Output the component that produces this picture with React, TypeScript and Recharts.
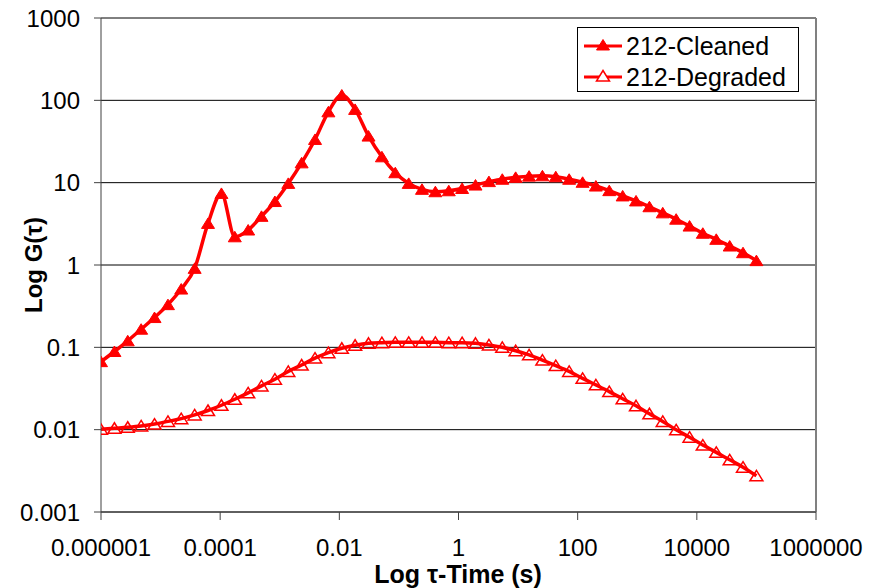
import React from "react"
import { LineChart, Line, XAxis, YAxis, CartesianGrid, ReferenceLine } from "recharts"

const tau = [
  1e-6, 1.68e-6, 2.81e-6, 4.72e-6, 7.91e-6, 1.33e-5, 2.22e-5, 3.73e-5, 6.25e-5, 1.05e-4,
  1.76e-4, 2.95e-4, 4.94e-4, 8.29e-4, 1.39e-3, 2.33e-3, 3.91e-3, 6.55e-3, 0.011, 0.0184,
  0.0309, 0.0518, 0.0869, 0.146, 0.244, 0.409, 0.687, 1.15, 1.93, 3.24,
  5.43, 9.1, 15.3, 25.6, 42.9, 72, 121, 202, 339, 569,
  954, 1600, 2680, 4500, 7550, 12600, 21200, 35600, 59600, 100000,
]

const cleaned = [
  0.067, 0.089, 0.12, 0.166, 0.23, 0.33, 0.51, 0.91, 3.2, 7.4,
  2.2, 2.66, 3.9, 5.9, 9.8, 17.4, 33.5, 72.5, 116, 77.6,
  36.8, 20.6, 13.2, 9.8, 8.3, 7.76, 7.97, 8.5, 9.35, 10.3,
  11.0, 11.6, 12.0, 12.1, 11.8, 11.0, 10.1, 9.1, 8.0, 6.9,
  6.0, 5.1, 4.3, 3.6, 2.97, 2.43, 2.05, 1.7, 1.41, 1.13,
]

const degraded = [
  0.0101, 0.0104, 0.0107, 0.0111, 0.0117, 0.0126, 0.0136, 0.0151, 0.0171, 0.0198,
  0.0234, 0.028, 0.034, 0.041, 0.051, 0.061, 0.074, 0.086, 0.0975, 0.106,
  0.112, 0.114, 0.115, 0.115, 0.115, 0.115, 0.114, 0.114, 0.112, 0.107,
  0.1, 0.091, 0.081, 0.07, 0.06, 0.051, 0.042, 0.035, 0.029, 0.0237,
  0.0195, 0.0156, 0.0126, 0.00995, 0.0081, 0.0065, 0.0053, 0.0043, 0.0035, 0.00275,
]

const xTicks = [1e-6, 1e-4, 0.01, 1, 100, 10000, 1e6]
const xTickLabels = ["0.000001", "0.0001", "0.01", "1", "100", "10000", "1000000"]
const yTicks = [0.001, 0.01, 0.1, 1, 10, 100, 1000]
const yTickLabels = ["0.001", "0.01", "0.1", "1", "10", "100", "1000"]
const seriesNames = ["212-Cleaned", "212-Degraded"]

const data = tau.map((t, i) => ({ tau: t, cleaned: cleaned[i], degraded: degraded[i] }))

const FONT = "'Liberation Sans', Arial, sans-serif"
const RED = "#ff0000"

function triPoints(cx: number, cy: number) {
  return `${cx},${cy - 5.5} ${cx + 6.5},${cy + 5} ${cx - 6.5},${cy + 5}`
}

const FilledDot = (props: any) => {
  const { cx, cy, index } = props
  if (cx == null || cy == null) return null
  return <polygon key={`f-${index}`} points={triPoints(cx, cy)} fill={RED} stroke={RED} strokeWidth={1} />
}

const HollowDot = (props: any) => {
  const { cx, cy, index } = props
  if (cx == null || cy == null) return null
  return <polygon key={`h-${index}`} points={triPoints(cx, cy)} fill="none" stroke={RED} strokeWidth={1.5} />
}

const XTitle = () => (
  <text x={458} y={583} textAnchor="middle" fontFamily={FONT} fontSize={25} fontWeight="bold" fill="#000">
    Log τ-Time (s)
  </text>
)

const YTitle = () => (
  <text
    x={42}
    y={265}
    transform="rotate(-90, 42, 265)"
    textAnchor="middle"
    fontFamily={FONT}
    fontSize={24}
    fontWeight="bold"
    fill="#000"
  >
    Log G(τ)
  </text>
)

function LegendBox() {
  return (
    <div
      style={{
        position: "absolute",
        left: 577,
        top: 27,
        width: 220,
        height: 63,
        border: "1px solid #000",
        background: "#fff",
        fontFamily: FONT,
        fontSize: 25,
        color: "#000",
      }}
    >
      {seriesNames.map((name, i) => (
        <div key={name} style={{ position: "absolute", left: 5, top: 3 + i * 31, height: 30, display: "flex", alignItems: "center" }}>
          <svg width={40} height={30} style={{ display: "block" }}>
            <line x1={1} y1={15} x2={39} y2={15} stroke={RED} strokeWidth={3} />
            <polygon
              points={triPoints(20, 14)}
              fill={i === 0 ? RED : "#fff"}
              stroke={RED}
              strokeWidth={i === 0 ? 1 : 1.5}
            />
          </svg>
          <span style={{ marginLeft: 3, lineHeight: "30px" }}>{name}</span>
        </div>
      ))}
    </div>
  )
}

export default function App() {
  return (
    <div style={{ position: "absolute", left: 0, top: 0, width: 877, height: 588, background: "#fff" }}>
      <LineChart width={877} height={588} data={data} margin={{ top: 18, right: 61, bottom: 0, left: 0 }}>
        <CartesianGrid horizontal vertical={false} stroke="#000" strokeWidth={1} />
        <XAxis
          dataKey="tau"
          type="number"
          scale="log"
          domain={[1e-6, 1e6]}
          ticks={xTicks}
          allowDataOverflow
          height={76}
          tickSize={8}
          tickMargin={19}
          stroke="#404040"
          tickFormatter={(v: number) => xTickLabels[xTicks.indexOf(v)] ?? String(v)}
          tick={{ fontSize: 24, fill: "#000", fontFamily: FONT }}
          label={XTitle}
        />
        <YAxis
          type="number"
          scale="log"
          domain={[0.001, 1000]}
          ticks={yTicks}
          allowDataOverflow
          width={101}
          tickSize={7}
          tickMargin={14}
          stroke="#404040"
          tickFormatter={(v: number) => yTickLabels[yTicks.indexOf(v)] ?? String(v)}
          tick={{ fontSize: 24, fill: "#000", fontFamily: FONT }}
          label={YTitle}
        />
        <ReferenceLine y={1000} stroke="#808080" strokeWidth={1} />
        <ReferenceLine x={1e6} stroke="#808080" strokeWidth={2} />
        <Line
          dataKey="degraded"
          type="monotone"
          stroke={RED}
          strokeWidth={3.5}
          dot={HollowDot}
          activeDot={false}
          isAnimationActive={false}
        />
        <Line
          dataKey="cleaned"
          type="monotone"
          stroke={RED}
          strokeWidth={3.5}
          dot={FilledDot}
          activeDot={false}
          isAnimationActive={false}
        />
      </LineChart>
      <LegendBox />
    </div>
  )
}
